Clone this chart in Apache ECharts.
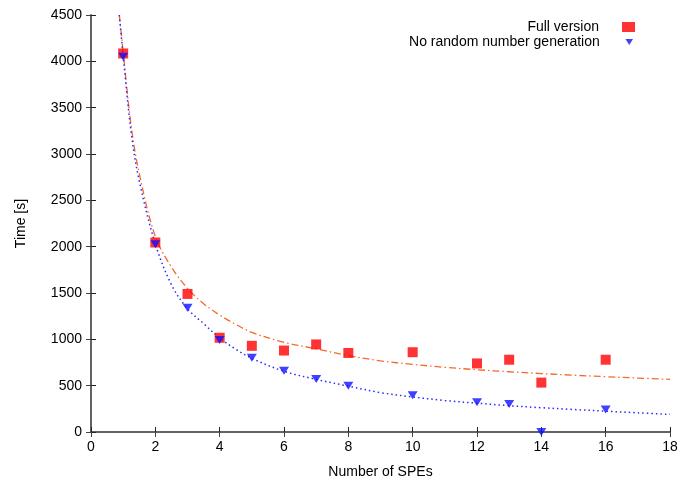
<!DOCTYPE html>
<html>
<head>
<meta charset="utf-8">
<script src="https://cdn.jsdelivr.net/npm/echarts@6/dist/echarts.min.js"></script>
<style>
  html, body { margin: 0; padding: 0; background: #fff; }
  #chart { width: 683px; height: 484px; }
</style>
</head>
<body>
<div id="chart"></div>
<script>
// Measured run times per number of SPEs
const spes = [1, 2, 3, 4, 5, 6, 7, 8, 10, 12, 13, 14, 16];
const fullTime = [4085, 2045, 1490, 1017, 930, 879, 945, 853, 861, 740, 780, 533, 780];
const noRngTime = [4050, 2027, 1340, 994, 800, 661, 571, 500, 397, 322, 303, 0, 243];

// Fitted trend curves, sampled along the x axis
const fitX = [0.88, 1, 1.25, 1.5, 2, 2.5, 3, 3.5, 4, 4.5, 5, 6, 7, 8, 9, 10, 11, 12, 13, 14, 15, 16, 17, 18];
const fullFit = [4500, 4100, 3300, 2790, 2110, 1780, 1550, 1385, 1262, 1162, 1075, 968, 898, 825, 768, 730, 698, 672, 650, 631, 613, 597, 582, 568];
const noRngFit = [4500, 4060, 3230, 2710, 2030, 1590, 1330, 1170, 1015, 893, 795, 655, 568, 495, 425, 378, 340, 311, 284, 262, 243, 225, 207, 190];

// Axis ticks
const xTicks = { min: 0, max: 18, interval: 2 };
const yTicks = { min: 0, max: 4500, interval: 500 };

const seriesNames = ['Full version', 'No random number generation'];
const axisTitles = { x: 'Number of SPEs', y: 'Time [s]' };

const FONT = "'Liberation Sans', Arial, Helvetica, sans-serif";
const TEXT_COLOR = '#000';
const TRI_DOWN = 'path://M0,0L10,0L5,8Z';

const pairs = (xs, ys) => xs.map((x, i) => [x, ys[i]]);
const plain = (v) => String(v);

const chart = echarts.init(document.getElementById('chart'), null, { renderer: 'canvas' });

const mainAxis = (extra, labelMargin) => Object.assign({
  type: 'value',
  splitLine: { show: false },
  axisLine: { show: true, lineStyle: { color: '#222', width: 1.5 } },
  axisTick: { show: true, inside: true, length: 5, lineStyle: { color: '#222', width: 1 } },
  axisLabel: { show: true, color: TEXT_COLOR, fontSize: 14, fontFamily: FONT, margin: labelMargin,
               formatter: plain, showMinLabel: true, showMaxLabel: true },
  nameTextStyle: { color: TEXT_COLOR, fontSize: 14, fontFamily: FONT }
}, extra);

const mirrorAxis = (extra) => Object.assign({
  type: 'value',
  splitLine: { show: false },
  axisLine: { show: true, lineStyle: { color: '#666', width: 1.5 } },
  axisTick: { show: true, inside: true, length: 5, lineStyle: { color: '#444', width: 1 } },
  axisLabel: { show: false }
}, extra);

const option = {
  animation: false,
  backgroundColor: '#fff',
  textStyle: { fontFamily: FONT },
  grid: { left: 91, right: 13, top: 15, bottom: 49, containLabel: false },
  xAxis: [
    mainAxis(Object.assign({ position: 'bottom', name: axisTitles.x, nameLocation: 'middle', nameGap: 33 }, xTicks), 8),
    mirrorAxis(Object.assign({ position: 'top' }, xTicks))
  ],
  yAxis: [
    mainAxis(Object.assign({ position: 'left', name: axisTitles.y, nameLocation: 'middle', nameGap: 63, nameRotate: 90 }, yTicks), 9),
    mirrorAxis(Object.assign({ position: 'right' }, yTicks))
  ],
  legend: [
    {
      data: [{ name: seriesNames[0], icon: 'rect' }],
      right: 48, top: 20, padding: 0, align: 'right', orient: 'vertical',
      itemWidth: 13, itemHeight: 10, selectedMode: false,
      textStyle: { color: TEXT_COLOR, fontSize: 14, fontFamily: FONT, padding: [0, 18, 0, 0] }
    },
    {
      data: [{ name: seriesNames[1], icon: TRI_DOWN }],
      right: 50, top: 35, padding: 0, align: 'right', orient: 'vertical',
      itemWidth: 9, itemHeight: 6, selectedMode: false,
      textStyle: { color: TEXT_COLOR, fontSize: 14, fontFamily: FONT, padding: [0, 20, 0, 0] }
    }
  ],
  series: [
    {
      name: 'fit-full',
      type: 'line',
      data: pairs(fitX, fullFit),
      smooth: 0.35,
      showSymbol: false,
      clip: true,
      lineStyle: { color: '#f46a2c', width: 1.3, type: [7, 3, 1.5, 3] },
      z: 2
    },
    {
      name: 'fit-norng',
      type: 'line',
      data: pairs(fitX, noRngFit),
      smooth: 0.35,
      showSymbol: false,
      clip: true,
      lineStyle: { color: '#2a2aff', width: 1.5, type: [1.5, 3] },
      z: 2
    },
    {
      name: seriesNames[0],
      type: 'scatter',
      data: pairs(spes, fullTime),
      symbol: 'rect',
      symbolSize: 10,
      clip: false,
      itemStyle: { color: '#ff0000' },
      z: 3
    },
    {
      name: seriesNames[1],
      type: 'scatter',
      data: pairs(spes, noRngTime),
      symbol: TRI_DOWN,
      symbolSize: [10, 8],
      clip: false,
      itemStyle: { color: '#1010ff' },
      z: 4
    }
  ]
};

chart.setOption(option);
</script>
</body>
</html>
